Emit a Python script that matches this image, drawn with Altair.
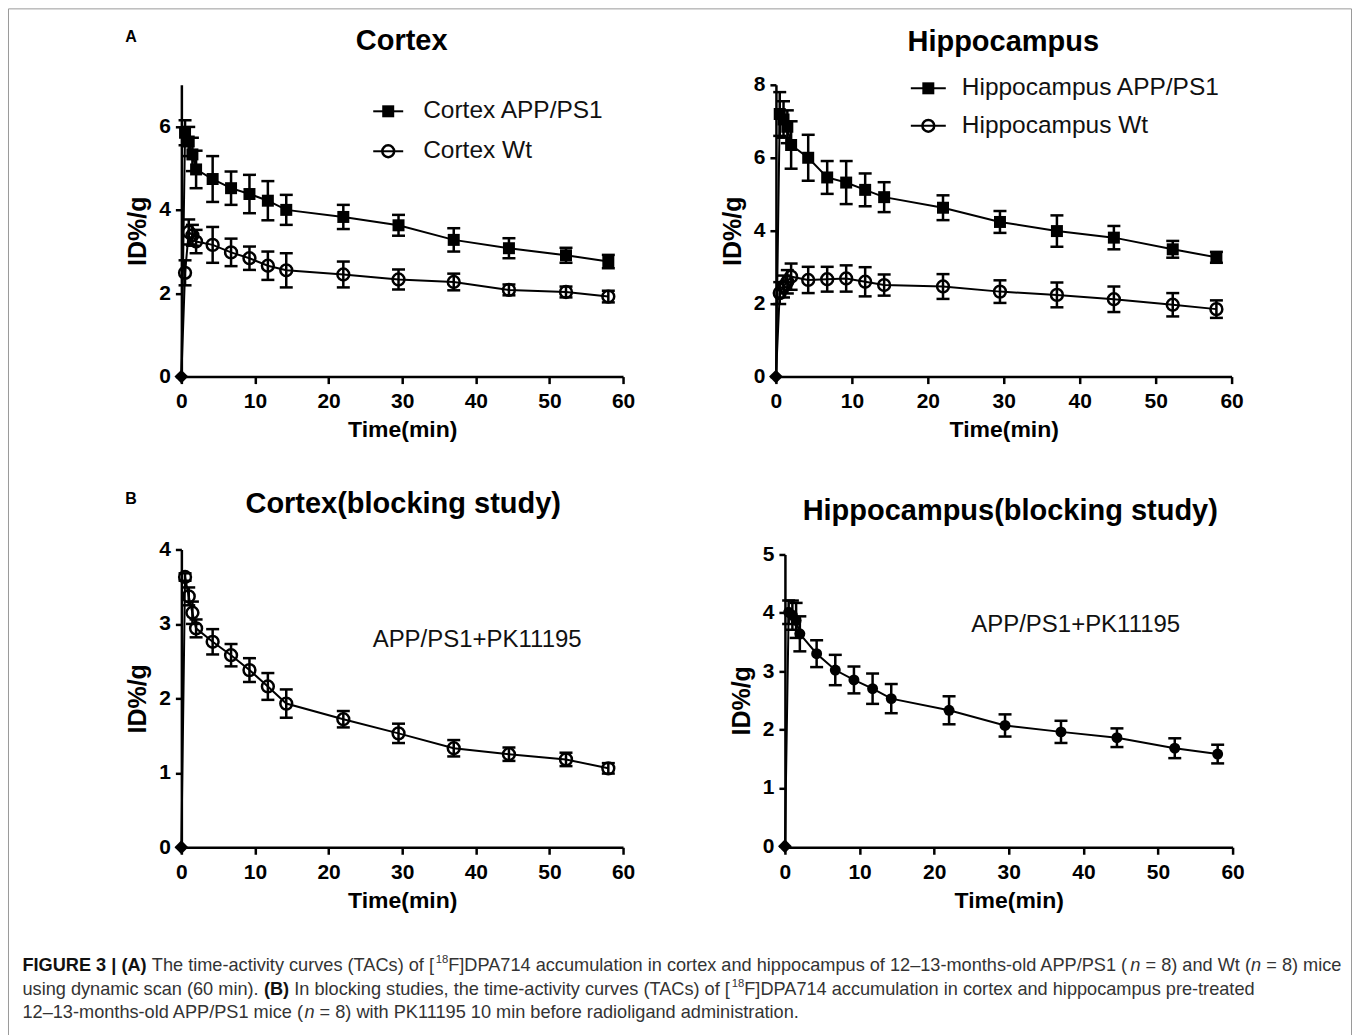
import altair as alt
import pandas as pd

# ---------------- data ----------------
time_min = [0, 0.5, 1, 1.5, 2, 4.25, 6.75, 9.25, 11.75, 14.25, 22, 29.5, 37, 44.5, 52.25, 58]

cortex_app = [0, 5.85, 5.64, 5.33, 4.97, 4.74, 4.52, 4.38, 4.22, 4.00, 3.83, 3.63, 3.28, 3.08, 2.91, 2.76]
cortex_app_sem = [0, 0.30, 0.35, 0.40, 0.45, 0.55, 0.40, 0.46, 0.47, 0.36, 0.29, 0.25, 0.28, 0.24, 0.18, 0.16]
cortex_wt = [0, 2.49, 3.47, 3.39, 3.24, 3.16, 2.98, 2.84, 2.66, 2.55, 2.45, 2.33, 2.27, 2.08, 2.03, 1.92]
cortex_wt_sem = [0, 0.30, 0.30, 0.25, 0.28, 0.43, 0.33, 0.28, 0.34, 0.41, 0.31, 0.24, 0.20, 0.13, 0.13, 0.14]

hippo_app = [0, 7.20, 7.05, 6.85, 6.35, 6.00, 5.46, 5.32, 5.12, 4.92, 4.63, 4.24, 3.99, 3.81, 3.49, 3.27]
hippo_app_sem = [0, 0.60, 0.50, 0.45, 0.65, 0.63, 0.45, 0.59, 0.45, 0.41, 0.34, 0.30, 0.43, 0.32, 0.23, 0.15]
hippo_wt = [0, 2.29, 2.47, 2.60, 2.74, 2.65, 2.67, 2.69, 2.60, 2.51, 2.47, 2.33, 2.24, 2.12, 1.97, 1.85]
hippo_wt_sem = [0, 0.30, 0.30, 0.32, 0.36, 0.36, 0.34, 0.36, 0.40, 0.29, 0.34, 0.31, 0.34, 0.35, 0.32, 0.24]

cortex_block = [0, 3.63, 3.37, 3.15, 2.94, 2.76, 2.58, 2.38, 2.16, 1.93, 1.72, 1.53, 1.33, 1.25, 1.18, 1.06]
cortex_block_sem = [0, 0.05, 0.12, 0.15, 0.12, 0.17, 0.15, 0.16, 0.18, 0.19, 0.11, 0.13, 0.11, 0.09, 0.09, 0.07]
hippo_block = [0, 4.01, 3.96, 3.87, 3.64, 3.30, 3.02, 2.85, 2.70, 2.53, 2.33, 2.07, 1.96, 1.86, 1.68, 1.58]
hippo_block_sem = [0, 0.20, 0.25, 0.30, 0.30, 0.23, 0.26, 0.23, 0.26, 0.25, 0.24, 0.19, 0.19, 0.16, 0.17, 0.16]

x_ticks = [0, 10, 20, 30, 40, 50, 60]

caption_lines = [
    [("FIGURE 3 | (A)", "b"), (" The time-activity curves (TACs) of [", "r"), ("18", "s"),
     ("F]DPA714 accumulation in cortex and hippocampus of 12\u201313-months-old APP/PS1 (", "r"),
     ("n", "i"), (" = 8) and Wt (", "r"), ("n", "i"), (" = 8) mice", "r")],
    [("using dynamic scan (60 min). ", "r"), ("(B)", "b"),
     (" In blocking studies, the time-activity curves (TACs) of [", "r"), ("18", "s"),
     ("F]DPA714 accumulation in cortex and hippocampus pre-treated", "r")],
    [("12\u201313-months-old APP/PS1 mice (", "r"), ("n", "i"),
     (" = 8) with PK11195 10 min before radioligand administration.", "r")],
]

# ---------------- styling helpers ----------------
FONT = "Liberation Sans"
CAP_FONT = "Liberation Sans"
ONE = pd.DataFrame({"k": [0]})

# Arial-compatible advance widths (1/1000 em), used only to place caption segments
AR = {' ': 278, '(': 333, ')': 333, '[': 278, ']': 278, '-': 333, '\u2013': 556, '.': 278, ',': 278,
      '/': 278, '=': 584, '+': 584, '|': 260, ':': 278,
      'A': 667, 'B': 667, 'C': 722, 'D': 722, 'E': 667, 'F': 611, 'G': 778, 'H': 722, 'I': 278,
      'J': 500, 'K': 667, 'L': 556, 'M': 833, 'N': 722, 'O': 778, 'P': 667, 'Q': 778, 'R': 722,
      'S': 667, 'T': 611, 'U': 722, 'V': 667, 'W': 944, 'X': 667, 'Y': 667, 'Z': 611,
      'a': 556, 'b': 556, 'c': 500, 'd': 556, 'e': 556, 'f': 278, 'g': 556, 'h': 556, 'i': 222,
      'j': 222, 'k': 500, 'l': 222, 'm': 833, 'n': 556, 'o': 556, 'p': 556, 'q': 556, 'r': 333,
      's': 500, 't': 278, 'u': 556, 'v': 500, 'w': 722, 'x': 500, 'y': 500, 'z': 500}
AB = {' ': 278, '(': 333, ')': 333, '|': 280, 'A': 722, 'B': 722, 'E': 667, 'F': 611, 'G': 778,
      'I': 278, 'R': 722, 'U': 722}


def units(s, table):
    return sum(table.get(ch, 556) for ch in s)


def vtext(txt, x, y, size, weight="normal", align="center", baseline="middle", font=FONT,
          color="black", style=None):
    kw = dict(text=txt, fontSize=size, fontWeight=weight, align=align, baseline=baseline,
              font=font, color=color)
    if style:
        kw["fontStyle"] = style
    return alt.Chart(ONE).mark_text(**kw).encode(x=alt.value(x), y=alt.value(y))


def legend_row(x0, x1, y, shape, filled, label, size, tx):
    line = alt.Chart(ONE).mark_rule(color="black", strokeWidth=2).encode(
        x=alt.value(x0), x2=alt.value(x1), y=alt.value(y))
    pt = alt.Chart(ONE).mark_point(shape=shape, filled=filled, size=size, color="black",
                                   opacity=1, strokeWidth=2.5).encode(
        x=alt.value((x0 + x1) / 2), y=alt.value(y))
    txt = vtext(label, tx, y, 24.5, align="left", color="#111")
    return [line, pt, txt]


def x_axis():
    return alt.Axis(values=x_ticks, title="Time(min)", tickSize=7, labelPadding=7, titlePadding=7,
                    labelFlush=False, grid=False, domainWidth=2.5, tickWidth=2.5,
                    domainColor="black", tickColor="black", labelFont=FONT, labelFontSize=21,
                    labelFontWeight="bold", labelColor="black", titleFont=FONT, titleFontSize=23,
                    titleFontWeight="bold", titleColor="black")


def y_axis(vals, offset):
    return alt.Axis(values=vals, title="ID%/g", tickSize=6, labelPadding=5, titlePadding=8,
                    offset=offset,
                    grid=False, domainWidth=2.5, tickWidth=2.5, domainColor="black",
                    tickColor="black", labelFont=FONT, labelFontSize=21, labelFontWeight="bold",
                    labelColor="black", titleFont=FONT, titleFontSize=25, titleFontWeight="bold",
                    titleColor="black")


def panel(series, ymax, yticks, w, h, extras, xrange=None, yrange=None, yoffset=0):
    frames = []
    for name, vals, sems, _ in series:
        frames.append(pd.DataFrame({"time": time_min, "value": vals, "sem": sems, "series": name}))
    df = pd.concat(frames, ignore_index=True)
    df["lo"] = df["value"] - df["sem"]
    df["hi"] = df["value"] + df["sem"]
    err = df[df["time"] > 0]
    caps = pd.concat([err.assign(cap=err["lo"]), err.assign(cap=err["hi"])], ignore_index=True)

    xkw = dict(domain=[0, 60], nice=False, zero=True)
    if xrange:
        xkw["range"] = xrange
    ykw = dict(domain=[0, ymax], nice=False, zero=True)
    if yrange:
        ykw["range"] = yrange
    xs = alt.Scale(**xkw)
    ys = alt.Scale(**ykw)
    ya = y_axis(yticks, yoffset)
    X = alt.X("time:Q", scale=xs, axis=x_axis())

    def Y(f):
        return alt.Y(f, scale=ys, axis=ya)

    layers = [
        alt.Chart(df).mark_line(color="black", strokeWidth=2).encode(
            x=X, y=Y("value:Q"), detail="series:N"),
        alt.Chart(err).mark_rule(color="black", strokeWidth=2.5).encode(
            x=X, y=Y("lo:Q"), y2="hi:Q"),
        alt.Chart(caps).mark_tick(orient="horizontal", size=13, thickness=2.5, color="black",
                                  opacity=1).encode(x=X, y=Y("cap:Q")),
    ]
    for name, vals, sems, (shape, filled, size) in series:
        sdf = err[err["series"] == name]
        layers.append(alt.Chart(sdf).mark_point(shape=shape, filled=filled, size=size,
                                                color="black", opacity=1, strokeWidth=2.5)
                      .encode(x=X, y=Y("value:Q")))
    origin = df[(df["time"] == 0)].head(1)
    layers.append(alt.Chart(origin).mark_point(shape="diamond", filled=True, size=190,
                                               color="black", opacity=1)
                  .encode(x=X, y=Y("value:Q")))
    layers.extend(extras)
    return alt.layer(*layers).properties(width=w, height=h)


SQ = ("square", True, 144)
CI = ("circle", False, 140)
DOT = ("circle", True, 120)

# ---------------- page-level decorations (drawn in the top-left panel's frame) ----------------
OX, OY = 181, 84  # page position of the top-left plot origin


def P(x, y):
    return x - OX, y - OY


deco = []
fx0, fy0 = P(8, 8)
fx1, fy1 = P(1352, 1035)
deco.append(alt.Chart(ONE).mark_rule(color="#9a9a9a", strokeWidth=1).encode(
    x=alt.value(fx0), x2=alt.value(fx1), y=alt.value(fy0)))
deco.append(alt.Chart(ONE).mark_rule(color="#9a9a9a", strokeWidth=1).encode(
    x=alt.value(fx0), y=alt.value(fy0), y2=alt.value(fy1)))
deco.append(alt.Chart(ONE).mark_rule(color="#9a9a9a", strokeWidth=1).encode(
    x=alt.value(fx1), y=alt.value(fy0), y2=alt.value(fy1)))
deco.append(vtext("A", *P(130.5, 36), 16, weight="bold"))
deco.append(vtext("B", *P(130.5, 498), 16, weight="bold"))

# caption (regular-width font: size chosen so the first line spans the same width)
SUP = 0.62
line1_units = sum(units(s, AB if st == "b" else AR) * (SUP if st == "s" else 1.0)
                  for s, st in caption_lines[0])
cap_fs = 1320 / (line1_units / 1000)
cap_y = [966, 990, 1013]
for li, segs in enumerate(caption_lines):
    x = 22.0
    for s, st in segs:
        table = AB if st == "b" else AR
        fs = cap_fs * (SUP if st == "s" else 1.0)
        lead = len(s) - len(s.lstrip())
        xd = x + units(s[:lead], table) / 1000 * fs
        yy = cap_y[li] - (0.33 * cap_fs if st == "s" else 0)
        px, py = P(xd, yy)
        deco.append(vtext(s.strip(), px, py, round(fs, 2), weight="bold" if st == "b" else "normal",
                          align="left", font=CAP_FONT,
                          color="#111" if st == "b" else "#333",
                          style="italic" if st == "i" else None))
        x += units(s, table) / 1000 * fs

# ---------------- panels ----------------
TL = panel(
    [("Cortex APP/PS1", cortex_app, cortex_app_sem, SQ), ("Cortex Wt", cortex_wt, cortex_wt_sem, CI)],
    7, [0, 2, 4, 6], 442, 292,
    [vtext("Cortex", 220.5, -44, 29, weight="bold")]
    + legend_row(192, 222, 26.5, "square", True, "Cortex APP/PS1", 144, 242)
    + legend_row(192, 222, 66.5, "circle", False, "Cortex Wt", 140, 242)
    + deco)

TR = panel(
    [("Hippocampus APP/PS1", hippo_app, hippo_app_sem, SQ),
     ("Hippocampus Wt", hippo_wt, hippo_wt_sem, CI)],
    8, [0, 2, 4, 6, 8], 456, 292,
    [vtext("Hippocampus", 227.5, -43, 29, weight="bold")]
    + legend_row(135, 170, 3.5, "square", True, "Hippocampus APP/PS1", 144, 186)
    + legend_row(135, 170, 41, "circle", False, "Hippocampus Wt", 140, 186))

BL = panel(
    [("Cortex blocking", cortex_block, cortex_block_sem, CI)],
    4, [0, 1, 2, 3, 4], 442, 298,
    [vtext("Cortex(blocking study)", 222, -46, 29, weight="bold"),
     vtext("APP/PS1+PK11195", 296, 91, 24, color="#111")])

BR = panel(
    [("Hippocampus blocking", hippo_block, hippo_block_sem, DOT)],
    5, [0, 1, 2, 3, 4, 5], 457, 298,
    [vtext("Hippocampus(blocking study)", 234.5, -38, 29, weight="bold"),
     vtext("APP/PS1+PK11195", 300, 76, 24, color="#111")],
    xrange=[9, 457], yrange=[297, 5], yoffset=-9)

chart = alt.concat(
    TL, TR, BL, BR, columns=2, spacing={"row": 173, "column": 153},
    bounds="flush",
).properties(
    padding={"left": 7.5, "top": 7.5, "right": 7.5, "bottom": 0},
    background="white",
).configure_view(stroke=None)

chart.save("out.html", embed_options={"renderer": "svg", "actions": False})
